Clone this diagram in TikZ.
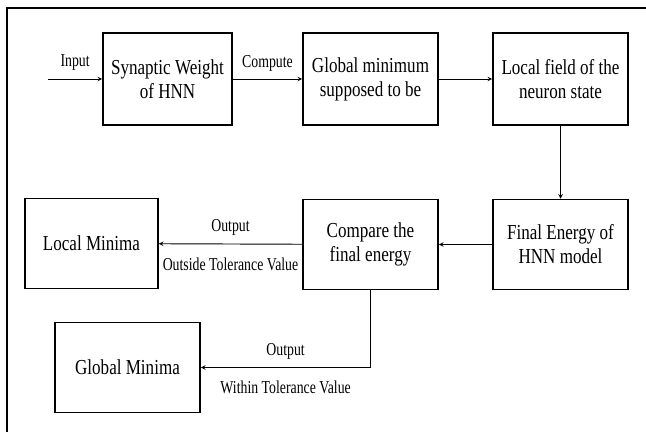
\documentclass[tikz,border=0pt]{standalone}
\usepackage{fontspec}
\setmainfont{Liberation Serif}
\newfontfamily\boxfont[FakeStretch=0.8]{Liberation Serif}
\newfontfamily\lblfont[FakeStretch=0.76]{Liberation Serif}
\usepackage{tikz}

\begin{document}
\begin{tikzpicture}[x=0.03cm, y=-0.03cm,
  box/.style={rectangle, draw=black, line width=1.3pt, minimum width=4.05cm, minimum height=2.7cm, align=center, font=\boxfont\fontsize{18.2}{20.5}\selectfont},
  lbl/.style={font=\lblfont\fontsize{15.5}{17}\selectfont},
  arrow/.style={->, line width=0.8pt, >=stealth}
]

\useasboundingbox (0,0) rectangle (646,432);

% Frame
\draw[line width=1.2pt] (7,432) -- (7,8) -- (646,8);

% Top row
\node[box, minimum width=3.87cm, minimum height=2.76cm] (synweight) at (167.5,79) {Synaptic Weight\\of HNN};
\node[box, minimum height=2.76cm] (globmin) at (370.5,79) {Global minimum\\supposed to be};
\node[box, minimum height=2.76cm] (localfield) at (560.5,79) {Local field of the\\neuron state};

% Middle row
\node[box] (finalenergy) at (560.5,244.5) {Final Energy of\\HNN model};
\node[box] (compare) at (370.5,244.5) {Compare the\\final energy};
\node[box, minimum width=3.99cm] (localminima) at (91.5,243.5) {Local Minima};

% Bottom row
\node[box, minimum width=4.35cm] (globalminima) at (127.5,367.5) {Global Minima};

% Input
\coordinate (input) at (48,79);

% Arrows
\draw[arrow] (input) -- node[lbl, above=3.5pt] {Input} (synweight);
\draw[arrow] (synweight) -- node[lbl, above=3pt] {Compute} (globmin);
\draw[arrow] (globmin) -- (localfield);
\draw[arrow] (localfield) -- (finalenergy);
\draw[arrow] (finalenergy) -- (compare);
\draw[arrow] (compare) -- node[lbl, above=3.3pt] {Output} node[lbl, below=8pt] {Outside Tolerance Value} (localminima);
\draw[arrow] (compare.south) |- node[lbl, pos=0.75, above=3.3pt] {Output} node[lbl, pos=0.75, below=8pt] {Within Tolerance Value} (globalminima.east);

\end{tikzpicture}
\end{document}
